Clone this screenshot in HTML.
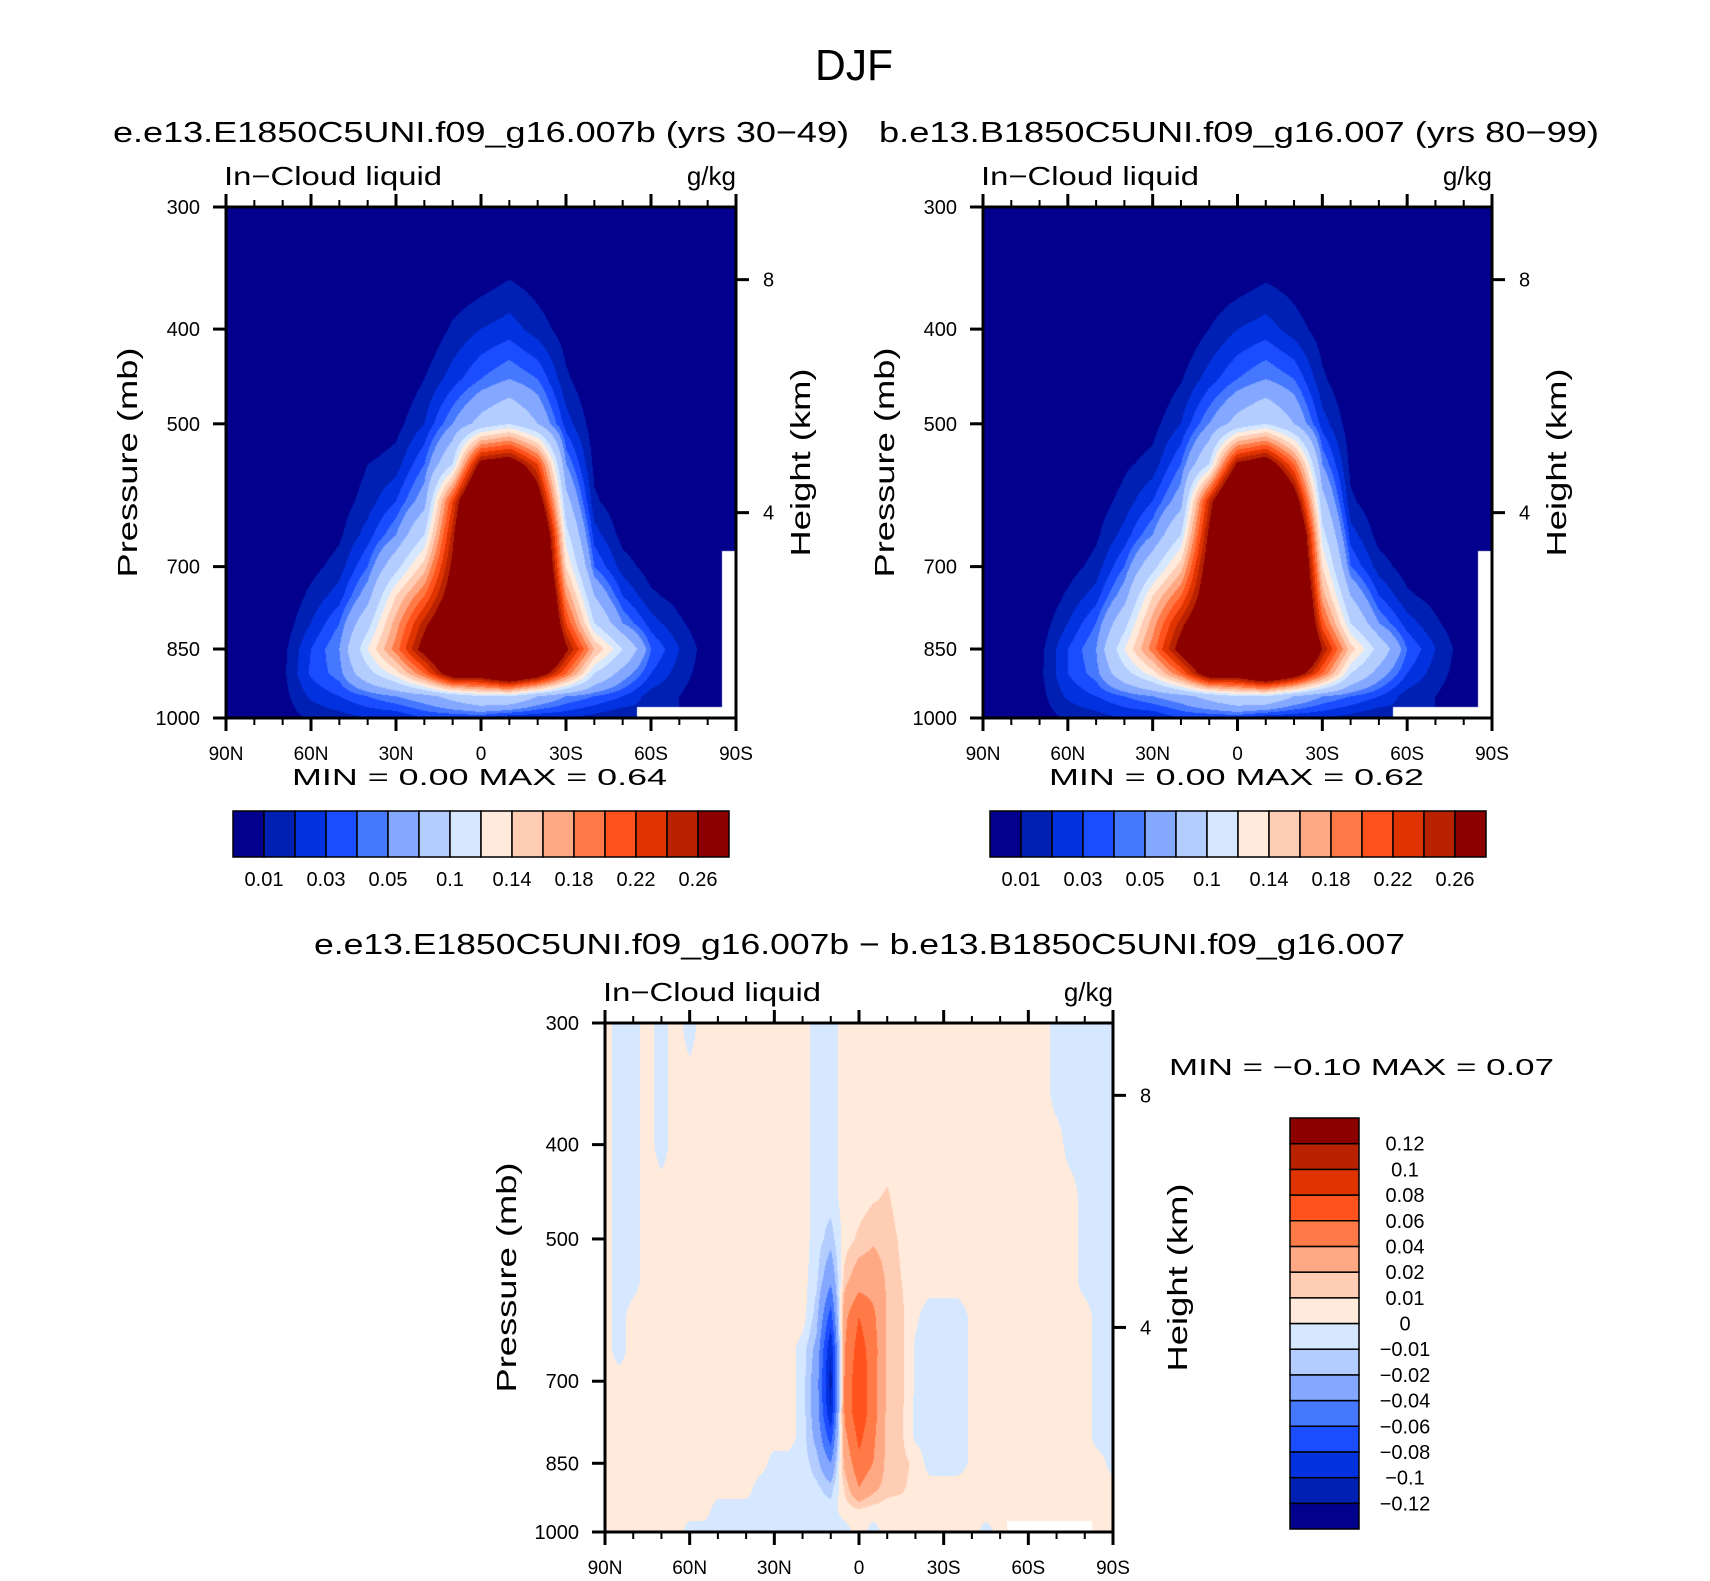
<!DOCTYPE html>
<html><head><meta charset="utf-8"><title>DJF In-Cloud liquid</title>
<style>
html,body{margin:0;padding:0;background:#fff;}
#wrap{position:relative;width:1710px;height:1581px;overflow:hidden;background:#fff;}
canvas{position:absolute;}
svg{position:absolute;left:0;top:0;}
text{font-family:"Liberation Sans",sans-serif;fill:#000;}
</style></head>
<body>
<div id="wrap">
<canvas id="c1"></canvas>
<canvas id="c2"></canvas>
<canvas id="c3"></canvas>
<svg id="svg" width="1710" height="1581"></svg>
</div>
<script>
// ---------- data ----------
const levels = [300,350,400,450,500,550,600,650,700,750,800,850,900,950,1000];
const latsTop = [90,80,70,60,50,40,30,20,10,0,-10,-20,-30,-40,-50,-60,-70,-80,-90];
const latsDiff = [90,85,80,75,70,65,60,55,50,45,40,35,30,25,20,15,10,5,0,-5,-10,-15,-20,-25,-30,-35,-40,-45,-50,-55,-60,-65,-70,-75,-80,-85,-90];
const topBounds = [0.01,0.02,0.03,0.04,0.05,0.07,0.1,0.12,0.14,0.16,0.18,0.2,0.22,0.24,0.26];
const topLabels = ["0.01","","0.03","","0.05","","0.1","","0.14","","0.18","","0.22","","0.26"];
const diffBounds = [-0.12,-0.1,-0.08,-0.06,-0.04,-0.02,-0.01,0,0.01,0.02,0.04,0.06,0.08,0.1,0.12];
const diffLabels = ["-0.12","-0.1","-0.08","-0.06","-0.04","-0.02","-0.01","0","0.01","0.02","0.04","0.06","0.08","0.1","0.12"];
const palette = ["#02008c","#0020b4","#0232e0","#1a4dff","#4678ff","#84a8ff","#b4cdff","#d6e8ff","#ffeadb","#ffcdb4","#ffa984","#ff7a46","#ff521c","#e03400","#b82200","#8c0000"];
const pTicks = [300,400,500,700,850,1000];
const hTicks = [8,4];
const xTickLat = [90,60,30,0,-30,-60,-90];
const xTickLabels = ["90N","60N","30N","0","30S","60S","90S"];

// control run: one column per latitude (90N..90S), values at levels 300..1000
const ctrl = [
[0,0,0,0,0,0,0,0,0,0,0,0,0,0,0],
[0,0,0,0,0,0,0,0,0,0,0,0,0,0,0],
[0,0,0,0,0,0,0,0,0,0,0.003,0.006,0.007,0.006,0.004],
[0,0,0,0,0,0,0,0,0.006,0.013,0.02,0.03,0.032,0.022,0.012],
[0,0,0,0,0,0,0.004,0.008,0.015,0.025,0.04,0.05,0.045,0.03,0.015],
[0,0,0,0,0,0.01,0.015,0.025,0.04,0.06,0.09,0.12,0.09,0.04,0.02],
[0,0,0,0,0.006,0.015,0.03,0.05,0.09,0.14,0.17,0.19,0.13,0.05,0.02],
[0,0,0,0.01,0.02,0.04,0.06,0.1,0.15,0.2,0.25,0.28,0.2,0.06,0.03],
[0,0,0.012,0.025,0.05,0.1,0.22,0.25,0.27,0.29,0.32,0.36,0.3,0.08,0.03],
[0,0.003,0.02,0.04,0.08,0.28,0.4,0.45,0.45,0.45,0.45,0.45,0.3,0.1,0.03],
[0,0.008,0.025,0.05,0.1,0.3,0.45,0.5,0.5,0.5,0.5,0.5,0.35,0.1,0.02],
[0,0.004,0.015,0.04,0.07,0.22,0.3,0.38,0.4,0.42,0.42,0.42,0.3,0.07,0.02],
[0,0,0.005,0.012,0.025,0.05,0.08,0.11,0.14,0.18,0.22,0.27,0.2,0.05,0.02],
[0,0,0,0,0.004,0.007,0.012,0.025,0.04,0.07,0.1,0.16,0.1,0.04,0.015],
[0,0,0,0,0,0,0.002,0.006,0.015,0.03,0.05,0.1,0.06,0.03,0.01],
[0,0,0,0,0,0,0,0.002,0.005,0.012,0.025,0.04,0.03,0.015,null],
[0,0,0,0,0,0,0,0,0.002,0.006,0.012,0.02,0.015,0.01,null],
[0,0,0,0,0,0,0,0,0,0,0.002,0.004,0.004,0.002,null],
[0,0,0,0,0,0,0,0,null,null,null,null,null,null,null]
];
// baseline run
const base = [
[0,0,0,0,0,0,0,0,0,0,0,0,0,0,0],
[0,0,0,0,0,0,0,0,0,0,0,0,0,0,0],
[0,0,0,0,0,0,0,0,0,0,0.003,0.006,0.007,0.006,0.004],
[0,0,0,0,0,0,0,0,0.005,0.012,0.02,0.03,0.03,0.022,0.012],
[0,0,0,0,0,0,0.004,0.008,0.014,0.025,0.04,0.05,0.045,0.03,0.015],
[0,0,0,0,0,0.008,0.014,0.024,0.04,0.06,0.09,0.12,0.09,0.04,0.02],
[0,0,0,0,0.006,0.014,0.03,0.05,0.09,0.14,0.17,0.19,0.13,0.05,0.02],
[0,0,0,0.009,0.02,0.04,0.06,0.1,0.15,0.2,0.25,0.28,0.2,0.06,0.03],
[0,0,0.01,0.025,0.05,0.1,0.24,0.27,0.29,0.3,0.32,0.36,0.3,0.08,0.03],
[0,0.002,0.02,0.04,0.08,0.27,0.4,0.45,0.45,0.45,0.45,0.45,0.3,0.1,0.03],
[0,0.007,0.025,0.05,0.1,0.3,0.45,0.5,0.5,0.5,0.5,0.5,0.35,0.1,0.02],
[0,0.004,0.015,0.04,0.07,0.2,0.3,0.38,0.4,0.42,0.42,0.42,0.3,0.07,0.02],
[0,0,0.005,0.012,0.025,0.05,0.08,0.11,0.14,0.17,0.21,0.26,0.2,0.05,0.02],
[0,0,0,0,0.004,0.007,0.012,0.025,0.04,0.07,0.1,0.15,0.1,0.04,0.015],
[0,0,0,0,0,0,0.002,0.006,0.015,0.03,0.05,0.09,0.06,0.03,0.01],
[0,0,0,0,0,0,0,0.002,0.005,0.012,0.025,0.04,0.03,0.015,null],
[0,0,0,0,0,0,0,0,0.002,0.006,0.012,0.02,0.015,0.01,null],
[0,0,0,0,0,0,0,0,0,0,0.002,0.004,0.004,0.002,null],
[0,0,0,0,0,0,0,0,null,null,null,null,null,null,null]
];
// difference: one row per level (300..1000), columns 90N..90S every 5 deg
const diff = [
[.005,-.005,-.005,.005,-.005,.005,-.005,.005,.005,.005,.005,.005,.005,.005,.005,-.005,-.005,.005,.005,.005,.005,.005,.005,.005,.005,.005,.005,.005,.005,.005,.005,.005,-.005,-.005,-.005,-.005,-.005],
[.005,-.005,-.005,.005,-.005,.005,.005,.005,.005,.005,.005,.005,.005,.005,.005,-.005,-.005,.005,.005,.005,.005,.005,.005,.005,.005,.005,.005,.005,.005,.005,.005,.005,-.005,-.005,-.005,-.005,-.005],
[.005,-.005,-.005,.005,-.005,.005,.005,.005,.005,.005,.005,.005,.005,.005,.005,-.005,-.005,.005,.005,.005,.005,.005,.005,.005,.005,.005,.005,.005,.005,.005,.005,.005,.005,-.005,-.005,-.005,-.005],
[.005,-.005,-.005,.005,.005,.005,.005,.005,.005,.005,.005,.005,.005,.005,.005,-.005,-.005,.005,.005,.008,.011,.005,.005,.005,.005,.005,.005,.005,.005,.005,.005,.005,.005,.005,-.005,-.005,-.005],
[.005,-.005,-.005,.005,.005,.005,.005,.005,.005,.005,.005,.005,.005,.005,.005,-.005,-.015,.005,.012,.018,.015,.008,.005,.005,.005,.005,.005,.005,.005,.005,.005,.005,.005,.005,-.005,-.005,-.005],
[.005,-.005,-.005,.005,.005,.005,.005,.005,.005,.005,.005,.005,.005,.005,.005,-.008,-.035,.015,.03,.03,.018,.01,.005,.005,.005,.005,.005,.005,.005,.005,.005,.005,.005,.005,-.005,-.005,-.005],
[.005,-.005,.005,.005,.005,.005,.005,.005,.005,.005,.005,.005,.005,.005,.005,-.015,-.07,.035,.06,.045,.018,.012,.002,-.005,-.005,-.005,.002,.005,.005,.005,.005,.005,.005,.005,.005,-.005,-.005],
[.005,-.005,.005,.005,.005,.005,.005,.005,.005,.005,.005,.005,.005,.005,-.005,-.025,-.1,.04,.07,.05,.018,.013,-.002,-.005,-.005,-.005,.002,.005,.005,.005,.005,.005,.005,.005,.005,-.005,-.005],
[.005,.005,.005,.005,.005,.005,.005,.005,.005,.005,.005,.005,.005,.005,-.005,-.03,-.11,.045,.075,.05,.017,.013,-.002,-.005,-.005,-.005,.002,.005,.005,.005,.005,.005,.005,.005,.005,-.005,-.005],
[.005,.005,.005,.005,.005,.005,.005,.005,.005,.005,.005,.005,.005,.005,-.005,-.03,-.1,.045,.075,.05,.016,.012,-.002,-.005,-.005,-.005,.002,.005,.005,.005,.005,.005,.005,.005,.005,-.005,-.005],
[.005,.005,.005,.005,.005,.005,.005,.005,.005,.005,.005,.005,.005,.005,-.005,-.025,-.07,.035,.065,.045,.015,.012,-.002,-.005,-.005,-.005,.002,.005,.005,.005,.005,.005,.005,.005,.005,-.005,-.005],
[.005,.005,.005,.005,.005,.005,.005,.005,.005,.005,.005,.005,-.005,-.005,-.005,-.015,-.04,.025,.055,.04,.015,.013,.008,-.005,-.005,-.005,.002,.005,.005,.005,.005,.005,.005,.005,.005,.005,-.005],
[.005,.005,.005,.005,.005,.005,.005,.005,.005,.005,.005,-.005,-.005,-.005,-.005,-.008,-.015,.012,.04,.025,.014,.012,.006,.005,.005,.005,.005,.005,.005,.005,.005,.005,.005,.005,.005,.005,.005],
[.005,.005,.005,.005,.005,.005,.005,.005,-.005,-.005,-.005,-.005,-.005,-.005,-.005,-.005,-.005,.005,.008,.005,.005,.005,.005,.005,.005,.005,.005,.005,.005,.005,.005,.005,.005,.005,.005,.005,.005],
[.005,.005,.005,.005,.005,.005,-.005,-.005,-.005,-.005,-.005,-.005,-.005,-.005,-.005,-.005,-.005,-.005,.005,-.005,.005,.005,.005,.005,.005,.005,.005,-.005,.005,null,null,null,null,null,null,.005,.005]
];

// ---------- layout ----------
const panels = [
  {id:'c1', x0:226, x1:736, y0:207, y1:718, get:(i,j)=>ctrl[i][j], lats:latsTop, bounds:topBounds, name:'control'},
  {id:'c2', x0:983, x1:1492, y0:207, y1:718, get:(i,j)=>base[i][j], lats:latsTop, bounds:topBounds, name:'baseline'},
  {id:'c3', x0:605, x1:1113, y0:1023, y1:1532, get:(i,j)=>diff[j][i], lats:latsDiff, bounds:diffBounds, name:'difference'}
];
const LNR = Math.log(1000/300);
function yOfP(P, p){ return P.y1 - Math.log(1000/p)/LNR*(P.y1-P.y0); }
function pOfY(P, y){ return 1000*Math.exp(-(P.y1-y)/(P.y1-P.y0)*LNR); }
function xOfLat(P, lat){ return P.x0 + (90-lat)/180*(P.x1-P.x0); }
function pOfZ(zkm){ return 1013.25*Math.pow(1-2.25577e-5*zkm*1000,5.25588); }
function hex(c){return [parseInt(c.substr(1,2),16),parseInt(c.substr(3,2),16),parseInt(c.substr(5,2),16)];}
const rgb = palette.map(hex);
function colorIdx(v,b){let k=0;while(k<b.length && v>=b[k])k++;return k;}

panels.forEach(P=>{
  const cv=document.getElementById(P.id);
  const W=P.x1-P.x0, H=P.y1-P.y0;
  cv.width=W; cv.height=H;
  cv.style.left=P.x0+'px'; cv.style.top=P.y0+'px';
  const ctx=cv.getContext('2d');
  const img=ctx.createImageData(W,H);
  const nLat=P.lats.length, step=180/(nLat-1);
  for(let py=0;py<H;py++){
    const p=pOfY(P,P.y0+py+0.5);
    let fj=(p-300)/50; fj=Math.max(0,Math.min(levels.length-1,fj));
    const j0=Math.min(levels.length-2,Math.floor(fj)), tj=fj-j0;
    for(let px=0;px<W;px++){
      const lat=90-(px+0.5)/W*180;
      let fi=(90-lat)/step; fi=Math.max(0,Math.min(nLat-1,fi));
      const i0=Math.min(nLat-2,Math.floor(fi)), ti=fi-i0;
      const o=(py*W+px)*4;
      const ni=Math.round(fi), nj=Math.round(fj);
      if(P.get(ni,nj)===null){img.data[o]=255;img.data[o+1]=255;img.data[o+2]=255;img.data[o+3]=255;continue;}
      const pts=[[i0,j0,(1-ti)*(1-tj)],[i0+1,j0,ti*(1-tj)],[i0,j0+1,(1-ti)*tj],[i0+1,j0+1,ti*tj]];
      let s=0,w=0;
      pts.forEach(q=>{const v=P.get(q[0],q[1]); if(v!==null){s+=v*q[2];w+=q[2];}});
      const v=w>0?s/w:0;
      const c=rgb[colorIdx(v,P.bounds)];
      img.data[o]=c[0];img.data[o+1]=c[1];img.data[o+2]=c[2];img.data[o+3]=255;
    }
  }
  ctx.putImageData(img,0,0);
});

// ---------- svg annotations ----------
const svg=document.getElementById('svg');
const NS='http://www.w3.org/2000/svg';
function mk(tag,attrs,parent){const e=document.createElementNS(NS,tag);for(const k in attrs)e.setAttribute(k,attrs[k]);(parent||svg).appendChild(e);return e;}
function txt(str,x,y,size,anchor,len,parent){
  const a={x:x,y:y,'font-size':size,'text-anchor':anchor||'start'};
  if(len){a.textLength=len;a.lengthAdjust='spacingAndGlyphs';}
  const t=mk('text',a,parent);t.textContent=str;return t;
}

let t;
t=txt('DJF',854,80,44,'middle',78);


t=txt('e.e13.E1850C5UNI.f09_g16.007b (yrs 30\u221249)',113,142,29,'start',736);


t=txt('b.e13.B1850C5UNI.f09_g16.007 (yrs 80\u221299)',879,142,29,'start',720);


t=txt('e.e13.E1850C5UNI.f09_g16.007b \u2212 b.e13.B1850C5UNI.f09_g16.007',314,954,29,'start',1091);



panels.forEach((P,k)=>{
  const g=mk('g',{});
  
  
  t=txt('In\u2212Cloud liquid',P.x0-2,P.y0-22,26,'start',218,g);
  
  
  t=txt('g/kg',P.x1,P.y0-22,26,'end',null,g);
  
  
  const fr=mk('rect',{x:P.x0,y:P.y0,width:P.x1-P.x0,height:P.y1-P.y0,fill:'none',stroke:'#000','stroke-width':3},g);
  
  
  for(let lat=90;lat>=-90;lat-=10){
    const x=xOfLat(P,lat), major=(lat%30===0), L=major?13:7;
    mk('line',{x1:x,y1:P.y1,x2:x,y2:P.y1+L,stroke:'#000','stroke-width':major?3:2},g);
    mk('line',{x1:x,y1:P.y0,x2:x,y2:P.y0-L,stroke:'#000','stroke-width':major?3:2},g);
  }
  xTickLat.forEach((lat,i)=>{
    t=txt(xTickLabels[i],xOfLat(P,lat),P.y1+42,19,'middle',null,g);
    
    
  });
  pTicks.forEach(p=>{
    const y=yOfP(P,p);
    mk('line',{x1:P.x0,y1:y,x2:P.x0-13,y2:y,stroke:'#000','stroke-width':3},g);
    t=txt(String(p),P.x0-26,y+7,20,'end',null,g);
    
    
  });
  hTicks.forEach(h=>{
    const y=yOfP(P,pOfZ(h));
    mk('line',{x1:P.x1,y1:y,x2:P.x1+13,y2:y,stroke:'#000','stroke-width':3},g);
    t=txt(String(h),P.x1+27,y+7,20,'start',null,g);
    
    
  });
  const cy=(P.y0+P.y1)/2;
  t=txt('Pressure (mb)',0,0,28,'middle',230,g);
  t.setAttribute('transform','translate('+(P.x0-89)+','+cy+') rotate(-90)');
  
  
  t=txt('Height (km)',0,0,28,'middle',188,g);
  t.setAttribute('transform','translate('+(P.x1+74)+','+cy+') rotate(-90)');
  
  
});

t=txt('MIN =     0.00   MAX =     0.64',292,785,23,'start',375);


t=txt('MIN =     0.00   MAX =     0.62',1049,785,23,'start',375);


t=txt('MIN =   \u22120.10   MAX =     0.07',1169,1075,23,'start',385);



[[233,'control'],[990,'baseline']].forEach(([x0,nm])=>{
  const g=mk('g',{});
  
  
  const w=(729-233)/palette.length;
  palette.forEach((c,i)=>{
    const r=mk('rect',{x:x0+i*w,y:811,width:w,height:46,fill:c,stroke:'#000','stroke-width':1.5},g);
    
    
  });
  topLabels.forEach((s,i)=>{
    if(!s)return;
    t=txt(s,x0+(i+1)*w,886,20,'middle',null,g);
    
    
  });
});
{
  const g=mk('g',{});
  
  
  const y0=1118,y1=1529,h=(y1-y0)/palette.length;
  palette.forEach((c,i)=>{
    const r=mk('rect',{x:1290,y:y1-(i+1)*h,width:69,height:h,fill:c,stroke:'#000','stroke-width':1.5},g);
    
    
  });
  diffLabels.forEach((s,i)=>{
    t=txt(s.replace('-','\u2212'),1405,y1-(i+1)*h+7,20,'middle',null,g);
    
    
  });
}
</script>
</body></html>
